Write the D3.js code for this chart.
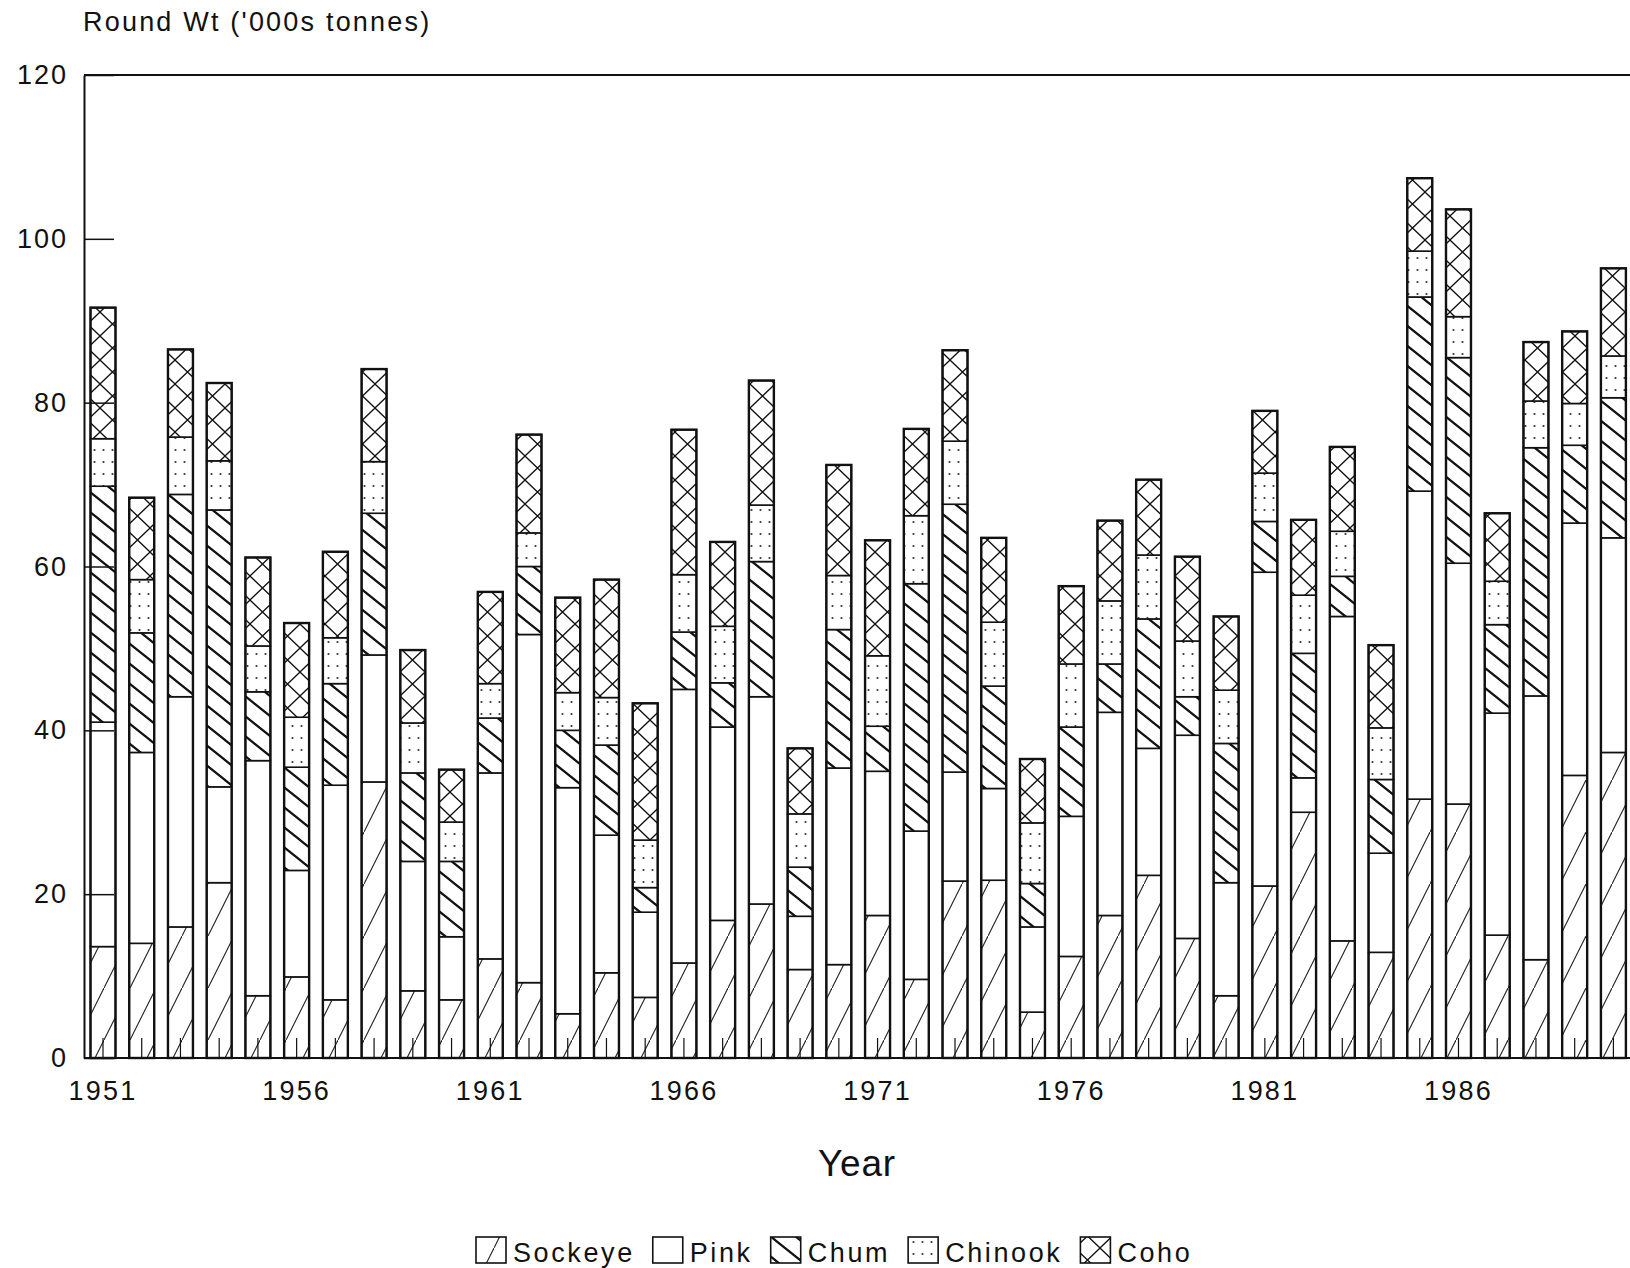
<!DOCTYPE html>
<html><head><meta charset="utf-8">
<script src="https://cdn.jsdelivr.net/npm/d3@7/dist/d3.min.js"></script>
<style>
body{margin:0;background:#fff;}
svg{display:block;background:#fff;}
text{font-family:"Liberation Sans",Arial,sans-serif;fill:#111;}
</style>
</head><body>
<svg id="chart" width="1630" height="1268"></svg>
<script>
// ---- data (thousand tonnes, round weight) ----
const years = [1951,1952,1953,1954,1955,1956,1957,1958,1959,1960,
               1961,1962,1963,1964,1965,1966,1967,1968,1969,1970,
               1971,1972,1973,1974,1975,1976,1977,1978,1979,1980,
               1981,1982,1983,1984,1985,1986,1987,1988,1989,1990];
const species = ["Sockeye","Pink","Chum","Chinook","Coho"];
const sockeye = [13.6,14.0,16.0,21.4,7.6,9.9,7.1,33.7,8.2,7.1,12.1,9.2,5.4,10.4,7.4,11.6,16.8,18.8,10.8,11.4,17.4,9.6,21.6,21.7,5.6,12.4,17.4,22.3,14.6,7.6,21.0,30.0,14.3,12.9,31.6,31.0,15.0,12.0,34.5,37.3];
const pink    = [27.4,23.3,28.1,11.7,28.7,13.0,26.2,15.5,15.8,7.7,22.7,42.5,27.6,16.8,10.4,33.4,23.6,25.3,6.5,24.0,17.6,18.1,13.3,11.2,10.4,17.1,24.8,15.5,24.8,13.8,38.3,4.2,39.6,12.1,37.6,29.4,27.1,32.2,30.8,26.2];
const chum    = [28.8,14.6,24.7,33.8,8.4,12.6,12.4,17.3,10.8,9.2,6.7,8.3,7.0,11.0,3.0,7.0,5.4,16.5,6.0,16.9,5.5,30.2,32.7,12.5,5.3,10.9,5.9,15.8,4.7,17.0,6.2,15.2,4.9,9.0,23.7,25.1,10.8,30.3,9.5,17.1];
const chinook = [5.8,6.5,7.0,6.0,5.6,6.1,5.6,6.3,6.1,4.8,4.2,4.1,4.6,5.8,5.8,7.0,6.9,6.9,6.5,6.6,8.6,8.3,7.7,7.8,7.4,7.7,7.7,7.8,6.8,6.5,5.9,7.1,5.5,6.3,5.6,5.0,5.3,5.7,5.1,5.1];
const coho    = [16.0,10.0,10.7,9.5,10.8,11.5,10.5,11.3,8.9,6.4,11.2,12.0,11.6,14.4,16.7,17.7,10.3,15.2,8.0,13.5,14.1,10.6,11.1,10.3,7.8,9.5,9.8,9.2,10.3,9.0,7.6,9.2,10.3,10.1,8.9,13.1,8.3,7.2,8.8,10.7];
const yTicks = [0,20,40,60,80,100,120];
const xTickLabels = ["1951","1956","1961","1966","1971","1976","1981","1986"];
const yTitle = "Round Wt ('000s tonnes)";
const xTitle = "Year";

// ---- build table ----
const seriesMap = {Sockeye:sockeye, Pink:pink, Chum:chum, Chinook:chinook, Coho:coho};
const table = years.map((yr,i)=>{const o={year:yr}; species.forEach(s=>o[s]=seriesMap[s][i]); return o;});
const stacked = d3.stack().keys(species)(table);

const svg = d3.select("#chart");
const L=84, T=75, B=1058, R=1630;
const y = d3.scaleLinear().domain([0,120]).range([B,T]);
const x = d3.scaleBand().domain(years).range([L,1632.4]).paddingInner(0.355).paddingOuter(0.168);

// ---- patterns ----
const defs = svg.append("defs");
function pat(id,w,h){return defs.append("pattern").attr("id",id).attr("patternUnits","userSpaceOnUse").attr("width",w).attr("height",h);}
let p;
p = pat("pSock",26,52);
p.append("rect").attr("width",26).attr("height",52).attr("fill","#fff");
p.append("path").attr("d","M-2,56 L28,-4").attr("stroke","#222").attr("stroke-width",1.1).attr("fill","none");
p = pat("pPink",10,10);
p.append("rect").attr("width",10).attr("height",10).attr("fill","#fff");
p = pat("pChum",25,20);
p.append("rect").attr("width",25).attr("height",20).attr("fill","#fff");
p.append("path").attr("d","M-2.5,-2 L27.5,22 M-27.5,-2 L2.5,22 M22.5,-2 L52.5,22").attr("stroke","#111").attr("stroke-width",2.2).attr("fill","none");
p = pat("pChin",9,12);
p.append("rect").attr("width",9).attr("height",12).attr("fill","#fff");
p.append("circle").attr("cx",4.5).attr("cy",6).attr("r",1.1).attr("fill","#333");
p = pat("pCoho",25,24);
p.append("rect").attr("width",25).attr("height",24).attr("fill","#fff");
p.append("path").attr("d","M-1,-0.96 L26,24.96 M-1,24.96 L26,-0.96").attr("stroke","#111").attr("stroke-width",1.3).attr("fill","none");
const fills = {Sockeye:"url(#pSock)",Pink:"url(#pPink)",Chum:"url(#pChum)",Chinook:"url(#pChin)",Coho:"url(#pCoho)"};

// ---- bars ----
const g = svg.append("g");
stacked.forEach(layer=>{
  g.append("g").selectAll("rect").data(layer).join("rect")
    .attr("x",d=>x(d.data.year)).attr("width",x.bandwidth())
    .attr("y",d=>y(d[1])).attr("height",d=>y(d[0])-y(d[1]))
    .attr("fill",fills[layer.key]).attr("stroke","#111").attr("stroke-width",1.6);
});
const lastLayer = stacked[stacked.length-1];
g.append("g").selectAll("rect").data(lastLayer).join("rect")
  .attr("x",d=>x(d.data.year)).attr("width",x.bandwidth())
  .attr("y",d=>y(d[1])).attr("height",d=>y(0)-y(d[1]))
  .attr("fill","none").attr("stroke","#111").attr("stroke-width",2.4);

// ---- axes ----
const yAxis = d3.axisLeft(y).tickValues(yTicks).tickSize(-30).tickSizeOuter(0).tickPadding(16).tickFormat(d3.format("d"));
const ya = svg.append("g").attr("transform",`translate(${L},0)`).call(yAxis);
ya.select(".domain").attr("stroke","#111").attr("stroke-width",2);
ya.selectAll(".tick line").attr("stroke","#111").attr("stroke-width",1.5);
ya.selectAll("text").attr("font-size",27).attr("letter-spacing",2).attr("font-family","Liberation Sans, Arial, sans-serif").attr("fill","#111");

const xAxis = d3.axisBottom(x).tickSize(-20).tickSizeOuter(0).tickPadding(23)
  .tickFormat(d=> xTickLabels.includes(String(d)) ? String(d) : "");
const xa = svg.append("g").attr("transform",`translate(0,${B})`).call(xAxis);
xa.select(".domain").attr("stroke","#111").attr("stroke-width",2.2).attr("d",`M${L},0H${R}`);
xa.selectAll(".tick line").attr("stroke","#111").attr("stroke-width",1.2);
xa.selectAll("text").attr("font-size",27).attr("letter-spacing",2.2).attr("font-family","Liberation Sans, Arial, sans-serif").attr("fill","#111");

// top frame line
svg.append("line").attr("x1",L).attr("x2",R).attr("y1",T).attr("y2",T).attr("stroke","#111").attr("stroke-width",2);

// titles
svg.append("text").attr("x",83).attr("y",31).attr("font-size",27).attr("letter-spacing",2.2).text(yTitle);
svg.append("text").attr("x",(L+R)/2).attr("y",1176).attr("text-anchor","middle").attr("font-size",37).attr("letter-spacing",0.8).attr("fill","#222").text(xTitle);

// ---- legend ----
const lg = svg.append("g");
let lx = 476;
species.forEach(s=>{
  lg.append("rect").attr("x",lx).attr("y",1237).attr("width",30).attr("height",26)
    .attr("fill",fills[s]).attr("stroke","#111").attr("stroke-width",1.6);
  const t = lg.append("text").attr("x",lx+37).attr("y",1262).attr("font-size",27).attr("letter-spacing",2.6).text(s);
  lx = lx + 37 + t.node().getComputedTextLength() + 18;
});
</script>
</body></html>
